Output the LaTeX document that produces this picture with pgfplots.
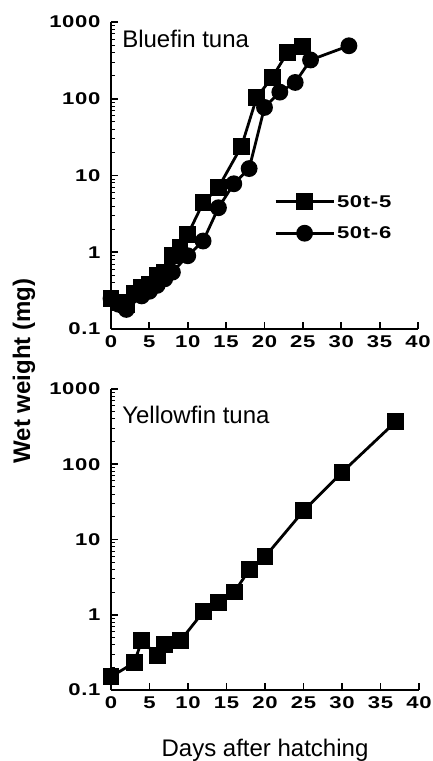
\documentclass[border=0pt]{standalone}
\usepackage{fontspec}
\setmainfont{Liberation Sans}
\newcommand\tkf{\bfseries\fontsize{17}{17}\selectfont\addfontfeature{FakeStretch=1.3,LetterSpace=4}}
\usepackage{pgfplots}
\pgfplotsset{compat=1.18}
\pgfplotsset{
 every axis/.append style={
  scale only axis,
  xmin=0, xmax=40, ymin=0.1, ymax=1000,
  axis x line*=bottom, axis y line*=left,
  axis line style={line width=2.2pt,-},
  xtick={0,5,...,40}, ytick={0.1,1,10,100,1000},
  xticklabels={0,5,10,15,20,25,30,35,40},
  yticklabels={0.1,1,10,100,1000},
  minor ytick={0.2,0.3,0.4,0.5,0.6,0.7,0.8,0.9,2,3,4,5,6,7,8,9,20,30,40,50,60,70,80,90,200,300,400,500,600,700,800,900},
  xtick pos=left, ytick pos=left,
  tick align=inside, major tick length=7pt, minor tick length=4pt,
  major tick style={line width=1.8pt,black}, minor tick style={line width=1pt,black},
  clip=false,
 },
 every axis plot/.append style={line width=2.8pt, black},
 legend image code/.code={\draw[mark repeat=2,mark phase=2,#1] plot coordinates {(0pt,0pt)(29pt,0pt)(58pt,0pt)};},
}
\begin{document}
\begin{tikzpicture}
\useasboundingbox (0,0) rectangle (433pt,761pt);
% Top panel
\begin{semilogyaxis}[width=307pt, height=307pt, at={(111pt,432pt)}, anchor=south west,
  legend style={at={(0.531,0.363)}, anchor=west, draw=none, fill=none, inner sep=0pt,
    font=\tkf, row sep=14pt},
  legend cell align=left,
  every tick label/.append style={font=\tkf},
  xticklabel style={yshift=-3pt}, yticklabel style={xshift=-7pt},
]
\addplot[mark=square*, mark size=7pt, mark options={solid,fill=black}] coordinates {(0,0.25)(1,0.22)(2,0.21)(3,0.29)(4,0.35)(5,0.38)(6,0.5)(7,0.55)(8,0.9)(9,1.15)(10,1.7)(12,4.4)(14,7)(17,24)(19,105)(21,190)(23,400)(25,480)};
\addlegendentry{50t-5}
\addplot[mark=*, mark size=7pt, mark options={solid,fill=black}] coordinates {(0,0.25)(1,0.21)(2,0.18)(4,0.27)(5,0.31)(6,0.37)(7,0.45)(8,0.55)(10,0.9)(12,1.4)(14,3.8)(16,7.8)(18,12.3)(20,77)(22,122)(24,163)(26,320)(31,490)};
\addlegendentry{50t-6}
\node[anchor=base west, font=\fontsize{24}{24}\selectfont, inner sep=0pt] at (rel axis cs:0.036,0.918) {Bluefin tuna};
\end{semilogyaxis}
% Bottom panel
\begin{semilogyaxis}[width=308pt, height=301pt, at={(111pt,71pt)}, anchor=south west,
  every tick label/.append style={font=\tkf},
  xticklabel style={yshift=-3pt}, yticklabel style={xshift=-7pt}]
\addplot[mark=square*, mark size=7pt, mark options={solid,fill=black}] coordinates {(0,0.15)(3,0.23)(4,0.45)(6,0.29)(7,0.40)(9,0.45)(12,1.1)(14,1.45)(16,2.0)(18,4.0)(20,5.9)(25,24)(30,78)(37,370)};
\node[anchor=base west, font=\fontsize{24}{24}\selectfont, inner sep=0pt] at (rel axis cs:0.036,0.887) {Yellowfin tuna};
\end{semilogyaxis}
\node[rotate=90, font=\bfseries\fontsize{24}{24}\selectfont] at (24pt,390pt) {Wet weight (mg)};
\node[anchor=base, font=\fontsize{24}{24}\selectfont, inner sep=0pt] at (265pt,5pt) {Days after hatching};
\end{tikzpicture}
\end{document}
